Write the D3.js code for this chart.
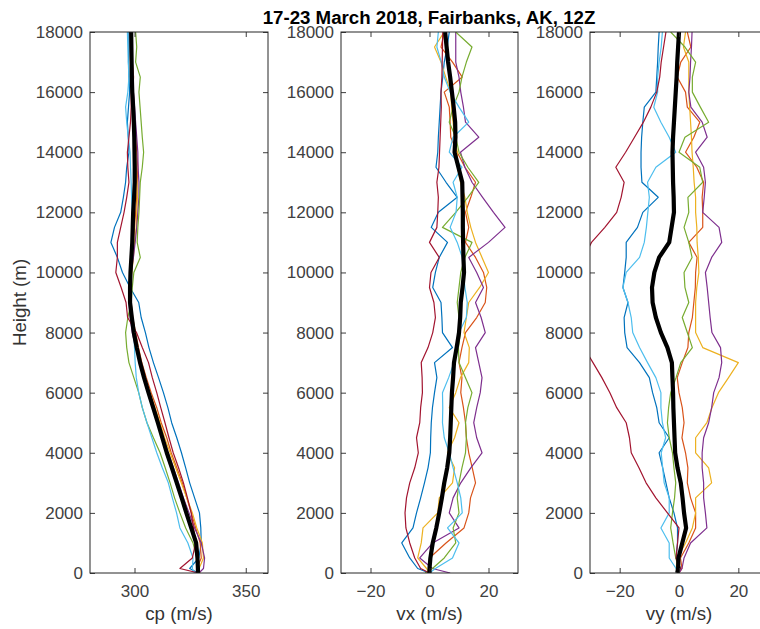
<!DOCTYPE html>
<html>
<head>
<meta charset="utf-8">
<script src="https://cdn.jsdelivr.net/npm/d3@7"></script>
<style>
  html, body { margin: 0; padding: 0; background: #fff; }
  svg { display: block; }
</style>
</head>
<body>
<script>
// ---------------- DATA ----------------
const title = "17-23 March 2018, Fairbanks, AK, 12Z";
const yLabel = "Height (m)";
const xLabels = ["cp (m/s)", "vx (m/s)", "vy (m/s)"];
const yTicks = [0, 2000, 4000, 6000, 8000, 10000, 12000, 14000, 16000, 18000];
const cpTicks = [300, 350];
const vTicks = [-20, 0, 20];
const seriesNames = ["17 Mar", "18 Mar", "19 Mar", "20 Mar", "21 Mar", "22 Mar", "23 Mar"];
const seriesColors = ["#0072BD", "#D95319", "#EDB120", "#7E2F8E", "#77AC30", "#4DBEEE", "#A2142F"];

// heights (m)
const heights = [0, 150, 500, 1000, 1500, 2000, 2500,
  3000, 3500, 4000, 4500, 5000, 5500, 6000, 6500, 7000, 7500,
  8000, 8500, 9000, 9500, 10000, 10500, 11000, 11500, 12000, 12500,
  13000, 13500, 14000, 14500, 15000, 15500, 16000, 16500, 17000, 17500, 18000];

// ---- cp (m/s) ----
const cpBlue = [328.6, 324.8, 328.9, 330, 329.8, 329.2, 327,
  324.8, 323, 321.1, 319, 316.7, 315, 313, 310.8, 308.5, 306.5,
  304.9, 303, 301.9, 298, 294.6, 292.3, 289.4, 291, 293.8, 295,
  296, 296.5, 297.5, 297.2, 296.8, 297.3, 297.8, 297.5, 297.3, 297.5, 297.5];
const cpOrange = [329, 328, 330, 329.5, 327.5, 325.5, 323.5,
  321.5, 319, 316.5, 314.5, 312, 310, 307.5, 305.3, 303.3, 301.8,
  300.5, 299.2, 298.5, 298.3, 298.5, 299, 299.5, 300, 300.5, 301,
  301.2, 301.5, 301, 300.5, 300, 299.6, 299.2, 299.6, 299, 298.8, 298.6];
const cpYellow = [329.5, 329, 331, 330.5, 328, 326, 323.5,
  321, 318.5, 316, 313.5, 311.5, 309.2, 307, 304.5, 302.5, 301,
  299.5, 298.5, 298, 298, 298.8, 299.5, 300, 300.8, 301, 301.3,
  301, 300.8, 300.5, 300.2, 300, 299.7, 299.5, 299.2, 299, 298.8, 298.8];
const cpPurple = [329, 331, 331.5, 330, 327, 324.5, 322,
  319.8, 317.5, 315.2, 313, 311, 308.8, 306.8, 304.5, 302.5, 300.5,
  299, 298, 297.5, 297.8, 298.5, 299.5, 300.3, 301, 301.5, 302,
  302, 301.6, 301.5, 301, 300.5, 300, 299.5, 299.3, 299, 298.9, 298.8];
const cpGreen = [329, 328, 328, 326.3, 323, 320.4, 318,
  316, 313.8, 311.5, 308.5, 305.6, 303.5, 301.9, 299.7, 297.5, 296.5,
  296, 297, 298.5, 299, 299.7, 302.6, 301.2, 301.5, 302, 302.3,
  302.6, 303.5, 304.1, 303.5, 303, 302.5, 302, 302.6, 300.5, 301, 300.5];
const cpLightBlue = [327, 326, 326.3, 324, 320.4, 318.9, 317,
  315.2, 312.5, 310, 307.8, 305.6, 303.5, 301.9, 300.8, 300.3, 300,
  299.7, 299, 298.5, 298.2, 298, 298.5, 298.8, 299, 299, 298.7,
  298.5, 298.2, 298, 297.2, 296.5, 296, 297, 297.5, 297.2, 297, 296.8];
const cpRed = [328.8, 320.4, 326, 327.5, 326.5, 325.5, 323.8,
  322, 319.8, 317.4, 315.5, 313.7, 311.8, 310, 308, 306.3, 303.5,
  300.9, 296.9, 296.2, 294, 291.6, 292.3, 292.3, 293.8, 295.3, 296.5,
  297.5, 297, 296.8, 297.5, 298.2, 298.5, 298.5, 298.7, 299, 299, 299];
const cpMean = [328.5, 328.5, 328.3, 327.7, 325.5, 323.3, 321.2,
  319, 316.8, 314.5, 312.5, 310.5, 308.4, 306.3, 304.3, 302.5, 301,
  299.7, 298.8, 298, 298, 298.2, 298.6, 299, 299.2, 299.4, 299.8,
  300.1, 300.1, 300, 299.9, 299.7, 299.4, 299, 298.8, 298.7, 298.6, 298.5];

// ---- vx (m/s) ----
const vxBlue = [0, -4, -6.7, -9.4, -5.6, -4.4, -3,
  -1.7, -0.5, 0.3, 0.4, 0.6, 1, 1.7, 2.5, 1.7, 7.8,
  4.4, 4.2, 3.9, 1.1, 2, 3.3, 6.1, 0.6, 3, 9.4,
  5.6, 2.2, 2.8, 3, 3.3, 3.6, 3.9, 4.5, 5, 6, 6.7];
const vxOrange = [0, 0, 0, 5.6, 11.7, 13.3, 13.9,
  15.6, 14.5, 13.3, 12.5, 12.2, 11.5, 10.6, 11, 10, 11,
  12.2, 16, 18.9, 19.4, 18.3, 15.6, 12.2, 13.3, 12.2, 14,
  15.6, 12, 9.4, 7.2, 7, 6.7, 5, 11.1, 7.8, 3.9, 5];
const vxYellow = [0, -1, -4, -2.8, -2.2, 2.8, 3.3,
  7.8, 8.5, 6.1, 8.5, 10, 6.7, 8.9, 10.5, 13.3, 13.5,
  11.7, 12.5, 13.3, 17, 20, 17.8, 15.6, 14, 12.8, 12,
  10.5, 9.5, 9.4, 8.5, 8, 7.5, 7.2, 5.5, 3.9, 1.7, 5];
const vxPurple = [7, 1, -3.3, 1.1, 10, 6.7, 8,
  10.6, 14, 17.8, 16, 15, 16, 17.2, 17.8, 16.7, 15.6,
  18.9, 17.5, 15.6, 18.3, 16, 13.3, 20, 25.6, 21.7, 18,
  14.4, 12, 10.5, 16.7, 12.2, 11.5, 10.6, 10, 8.9, 8.9, 8.9];
const vxGreen = [-1.5, 1, 5, 8.9, 8, 10, 9.4,
  10, 11, 12.2, 12.5, 12.2, 13, 14.4, 12.2, 10, 9.8,
  10.5, 10, 9.4, 10, 10.6, 12, 14.4, 4.4, 8.9, 13,
  16.7, 13, 10, 8.9, 6.7, 8, 10, 11, 12.5, 14.4, 8.9];
const vxLightBlue = [0, 2, 7.8, 10, 6.1, 11.1, 10.6,
  9.4, 8, 6.7, 5, 4.4, 4.5, 4.4, 6.5, 8.3, 9.5,
  10, 12.5, 12.8, 12, 11.5, 11.1, 9.4, 7, 9, 9.4,
  8, 11, 6.7, 8, 13.3, 10, 7, 5, 4, 2.5, 3];
const vxRed = [0, -3, -5, -6.7, -8, -8.3, -7.8,
  -6.7, -5, -3.8, -4.4, -3.3, -3, -2.4, -2.5, -2.8, -0.5,
  1.1, 2, 1.5, 0, 0.5, 3.3, 0, 2.5, 2.8, 3,
  2.5, 3.2, 3.4, 3.6, 3.8, 4, 3.9, 4.2, 4.3, 4.4, 4.5];
const vxMean = [0, 0, 0.3, 1.1, 2.3, 3.3, 4.2,
  5, 6, 6.7, 7, 7.2, 7.4, 7.6, 8, 8.3, 9.2,
  10, 10.4, 10.6, 11.2, 11.7, 11.5, 11.4, 11.3, 11.3, 11.2,
  11.1, 9.8, 8.5, 8.8, 8.7, 8.2, 7.6, 7, 6.3, 5.8, 5.3];

// ---- vy (m/s) ----
const vyBlue = [-0.3, 0.5, -1, -0.5, -0.5, -1.7, -3.3,
  -4.4, -5.5, -6.7, -3.3, -6.7, -7.5, -8.9, -10, -13.3, -17.5,
  -18.3, -18.5, -17.2, -18.9, -18.3, -17.8, -17.8, -14, -12.2, -7,
  -12.5, -12.8, -12.8, -12.6, -12.2, -11.7, -7.8, -7.5, -7.2, -7, -6.7];
const vyOrange = [0, 1, 0.5, 3.3, 5.6, 5.6, 3.9,
  2.8, 3, 2.2, 1, 1.7, 1.1, 0, -0.6, 1.1, 3,
  3.3, 4.5, 5, 5.5, 5.6, 6.1, 3.3, 8, 8, 7.8,
  8.3, 6, 2.2, 5, 7, 2.8, 2.2, -0.6, 0.6, 4, 2.8];
const vyYellow = [0, -1, -0.5, 2.2, 4.5, 5.6, 5.6,
  11, 10, 5.6, 5.6, 9.4, 11.1, 13.3, 16.7, 20, 8,
  5.6, 5.6, 5.6, 6, 6.7, 6.5, 6.1, 6, 5.6, 5.6,
  5.1, 4.8, 4.4, 4.2, 3.9, 3.6, 3.3, 3.3, 3.3, 1.5, 2.2];
const vyPurple = [0, 1, 1.7, 3.9, 9.4, 8.9, 8.3,
  8.3, 7.8, 7.8, 8.3, 10, 11, 11.7, 13.5, 14.4, 14,
  11.1, 10.5, 10, 9.5, 8.9, 11, 14.4, 13.5, 8, 8.5,
  8.9, 8.3, 5.6, 9.5, 7.8, 4, 3.3, 3.7, 3.9, 4.2, 4.4];
const vyGreen = [-0.5, 0, -1.1, -2, -2.8, -2.2, -1.5,
  -1.1, -1.7, -2.2, -3.3, -3.9, -3.5, -2.8, -1, 0.6, 4.5,
  2.8, 1.1, 3.3, 2, 1.7, 4.4, 3.3, 1.7, 3.3, 3,
  8, 7, 0, 2, 10, 7.2, 4.5, 4.5, 5.6, 2, -2.8];
const vyLightBlue = [-0.3, -1, -3.3, -3.3, -6.1, -3.3, -3.3,
  -5, -5.5, -6, -4.5, -5.6, -6.1, -6.1, -7.8, -10.6, -13.3,
  -15.6, -16.1, -17.2, -18.9, -17.8, -13.3, -11.7, -11, -10.5, -10,
  -10.6, -7.8, -1.1, -3.3, -6.1, -8.5, -7.2, -7.2, -6.7, -6, -5.6];
const vyRed = [-0.5, 0.5, -1, -0.5, 0, -3.9, -7.8,
  -11.1, -13.5, -16.1, -16.7, -17.8, -21, -23.3, -26, -29, -32,
  -35, -37, -38, -37, -35, -32, -29.5, -25, -21, -19.5,
  -18.5, -21.3, -18, -15, -12, -9.5, -7.5, -6.5, -6, -5.2, -4.4];
const vyMean = [-0.6, -0.3, -0.2, 1.1, 2.4, 1.7, 1.2,
  0.6, -0.5, -1.3, -1.5, -1.7, -1.9, -2, -2.2, -2.4, -3.9,
  -6.1, -7.8, -8.9, -9.1, -8.3, -6.7, -3.3, -2.5, -1.7, -1.8,
  -2, -2.1, -2.2, -2, -1.7, -1.4, -1.1, -0.8, -0.6, -0.3, 0];

// ---------------- CHART ----------------
(function () {
const W = 760, Hgt = 629;
const font = "'Liberation Sans', Arial, Helvetica, sans-serif";
const axisColor = "#262626";
const tickFont = "17px", labelFont = "18.7px";

const svg = d3.select("body").append("svg")
  .attr("width", W).attr("height", Hgt)
  .style("background", "#fff");

const yTop = 32, yBottom = 573;
const y = d3.scaleLinear().domain([0, 18000]).range([yBottom, yTop]);

const panels = [
  { left: 90, right: 268, domain: [280, 360], ticks: cpTicks, label: xLabels[0],
    series: [cpBlue, cpOrange, cpYellow, cpPurple, cpGreen, cpLightBlue, cpRed], mean: cpMean },
  { left: 341, right: 518, domain: [-30, 30], ticks: vTicks, label: xLabels[1],
    series: [vxBlue, vxOrange, vxYellow, vxPurple, vxGreen, vxLightBlue, vxRed], mean: vxMean },
  { left: 590, right: 768, domain: [-30, 30], ticks: vTicks, label: xLabels[2],
    series: [vyBlue, vyOrange, vyYellow, vyPurple, vyGreen, vyLightBlue, vyRed], mean: vyMean }
];

const defs = svg.append("defs");

panels.forEach((p, pi) => {
  const x = d3.scaleLinear().domain(p.domain).range([p.left, p.right]);
  const g = svg.append("g");

  const clipId = "clip" + pi;
  defs.append("clipPath").attr("id", clipId)
    .append("rect").attr("x", p.left).attr("y", yTop)
    .attr("width", p.right - p.left).attr("height", yBottom - yTop);

  const line = vals => d3.line()
    .x((d, i) => x(vals[i]))
    .y((d, i) => y(heights[i]))(heights);

  const plot = g.append("g").attr("clip-path", `url(#${clipId})`);
  p.series.forEach((s, si) => {
    plot.append("path")
      .attr("d", line(s))
      .attr("fill", "none")
      .attr("stroke", seriesColors[si])
      .attr("stroke-width", 1.2)
      .attr("stroke-linejoin", "round")
      .attr("data-name", seriesNames[si]);
  });
  plot.append("path")
    .attr("d", line(p.mean))
    .attr("fill", "none")
    .attr("stroke", "#000")
    .attr("stroke-width", 4.2)
    .attr("stroke-linejoin", "round");

  const styleAxis = sel => {
    sel.select(".domain").remove();
    sel.selectAll(".tick line").attr("stroke", axisColor).attr("stroke-width", 0.9);
    sel.selectAll(".tick text").attr("fill", "#404040").style("font-family", font).style("font-size", tickFont);
  };
  g.append("g").attr("transform", `translate(${p.left},0)`)
    .call(d3.axisLeft(y).tickValues(yTicks).tickSize(-5).tickPadding(7).tickFormat(d3.format("d")))
    .call(styleAxis);
  g.append("g").attr("transform", `translate(${p.right},0)`)
    .call(d3.axisRight(y).tickValues(yTicks).tickSize(-5).tickFormat(""))
    .call(styleAxis);
  g.append("g").attr("transform", `translate(0,${yBottom})`)
    .call(d3.axisBottom(x).tickValues(p.ticks).tickSize(-5).tickPadding(12).tickFormat(d3.format("d")))
    .call(styleAxis);
  g.append("g").attr("transform", `translate(0,${yTop})`)
    .call(d3.axisTop(x).tickValues(p.ticks).tickSize(-5).tickFormat(""))
    .call(styleAxis);

  g.append("rect")
    .attr("x", p.left).attr("y", yTop)
    .attr("width", p.right - p.left).attr("height", yBottom - yTop)
    .attr("fill", "none").attr("stroke", axisColor).attr("stroke-width", 1);

  g.append("text")
    .attr("x", (p.left + p.right) / 2).attr("y", 620)
    .attr("text-anchor", "middle")
    .attr("fill", "#333")
    .style("font-family", font).style("font-size", labelFont)
    .text(p.label);
});

svg.append("text")
  .attr("transform", `translate(26,${(yTop + yBottom) / 2}) rotate(-90)`)
  .attr("text-anchor", "middle")
  .attr("fill", "#333")
  .style("font-family", font).style("font-size", labelFont)
  .text(yLabel);

svg.append("text")
  .attr("x", 429).attr("y", 24)
  .attr("text-anchor", "middle")
  .attr("fill", "#000")
  .style("font-family", font).style("font-size", labelFont).style("font-weight", "bold")
  .text(title);
})();
</script>
</body>
</html>
